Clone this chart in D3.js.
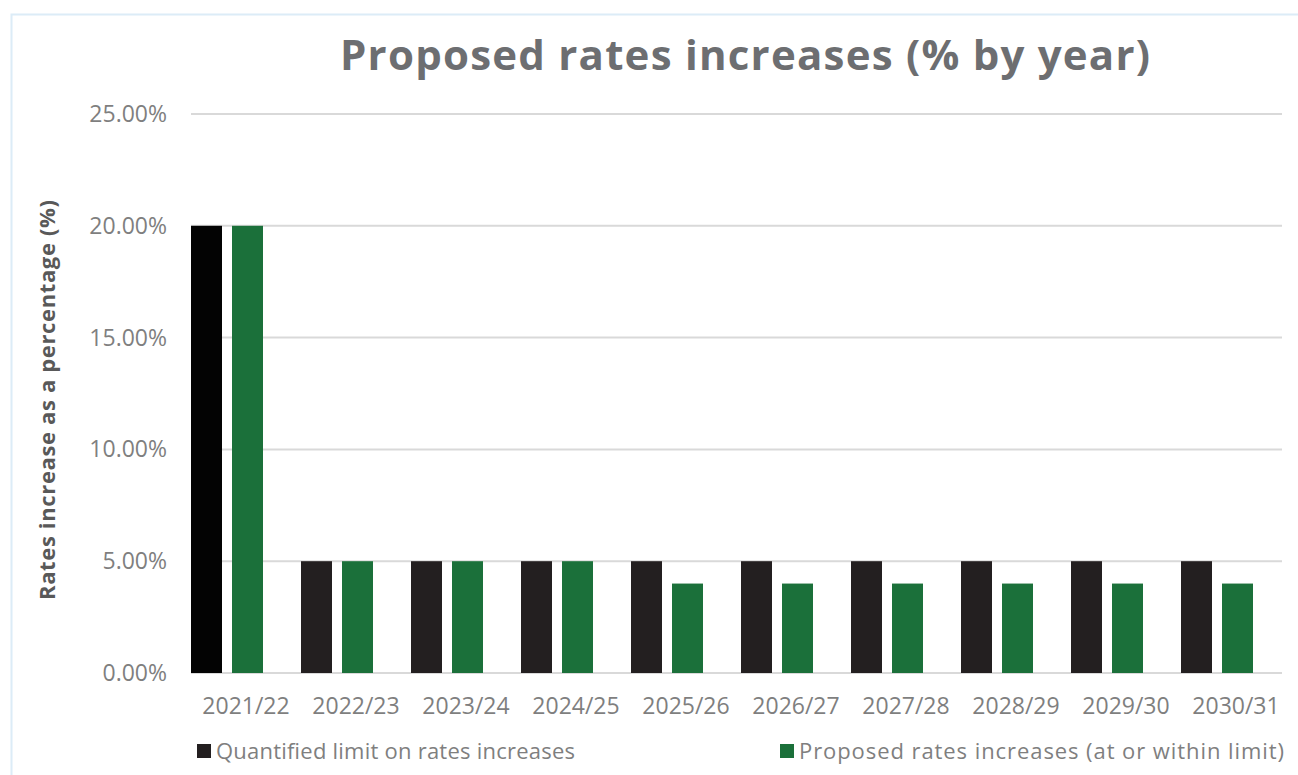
<!DOCTYPE html>
<html lang="en">
<head>
<meta charset="utf-8">
<title>Proposed rates increases</title>
<script src="https://d3js.org/d3.v7.min.js"></script>
<style>
  body { margin: 0; background: #fff; }
  text { font-family: "Open Sans", "Noto Sans", sans-serif; }
</style>
</head>
<body>
<script>
// data
var years = ["2021/22", "2022/23", "2023/24", "2024/25", "2025/26",
             "2026/27", "2027/28", "2028/29", "2029/30", "2030/31"];
var limitValues = [20, 5, 5, 5, 5, 5, 5, 5, 5, 5];
var proposedValues = [20, 5, 5, 5, 4, 4, 4, 4, 4, 4];
var yTicks = [0, 5, 10, 15, 20, 25];
var seriesNames = ["Quantified limit on rates increases",
                   "Proposed rates increases (at or within limit)"];

var w = 1298, h = 775;

var svg = d3.select("body").append("svg")
  .attr("width", w)
  .attr("height", h);

// chart border
svg.append("rect")
  .attr("x", 11.5).attr("y", 14.5)
  .attr("width", w).attr("height", h)
  .attr("fill", "none")
  .attr("stroke", "#dcecf7")
  .attr("stroke-width", 2);

var x = d3.scaleBand().domain(years).range([191, 1291]);
var y = d3.scaleLinear().domain([0, 25]).range([673, 114]);

// gridlines
svg.append("g").selectAll("line")
  .data(yTicks)
  .enter().append("line")
  .attr("x1", 191).attr("x2", 1282)
  .attr("y1", function(d) { return y(d); })
  .attr("y2", function(d) { return y(d); })
  .attr("stroke", "#d9d9d9")
  .attr("stroke-width", 2);

// y tick labels
svg.append("g").selectAll("text")
  .data(yTicks)
  .enter().append("text")
  .attr("x", 167)
  .attr("y", function(d) { return y(d) + 8; })
  .attr("text-anchor", "end")
  .attr("font-size", 23)
  .attr("fill", "#7f7f7f")
  .text(function(d) { return d.toFixed(2) + "%"; });

var barW = 31;

// limit bars
svg.append("g").selectAll("rect")
  .data(limitValues)
  .enter().append("rect")
  .attr("x", function(d, i) { return x(years[i]); })
  .attr("y", function(d) { return y(d); })
  .attr("width", barW)
  .attr("height", function(d) { return y(0) - y(d); })
  .attr("fill", function(d, i) { return i === 0 ? "#030303" : "#231f20"; });

// proposed bars
svg.append("g").selectAll("rect")
  .data(proposedValues)
  .enter().append("rect")
  .attr("x", function(d, i) { return x(years[i]) + 41; })
  .attr("y", function(d) { return y(d); })
  .attr("width", barW)
  .attr("height", function(d) { return y(0) - y(d); })
  .attr("fill", "#1b703a");

// x labels
svg.append("g").selectAll("text")
  .data(years)
  .enter().append("text")
  .attr("x", function(d) { return x(d) + x.bandwidth() / 2; })
  .attr("y", 714)
  .attr("text-anchor", "middle")
  .attr("font-size", 23)
  .attr("fill", "#7f7f7f")
  .text(function(d) { return d; });

// title
svg.append("text")
  .attr("x", 745).attr("y", 70)
  .attr("text-anchor", "middle")
  .attr("font-size", 42)
  .attr("font-weight", "bold")
  .attr("fill", "#6d6e71")
  .attr("textLength", 810)
  .text("Proposed rates increases (% by year)");

// y axis title
svg.append("text")
  .attr("transform", "translate(55,400) rotate(-90)")
  .attr("text-anchor", "middle")
  .attr("font-size", 22)
  .attr("font-weight", "bold")
  .attr("fill", "#595959")
  .attr("textLength", 400)
  .text("Rates increase as a percentage (%)");

// legend
var legendX = [197, 780];
var legendTextW = [359, 485];
var legendColors = ["#231f20", "#1b703a"];
var legend = svg.append("g").selectAll("g")
  .data(seriesNames)
  .enter().append("g")
  .attr("transform", function(d, i) { return "translate(" + legendX[i] + ",744)"; });

legend.append("rect")
  .attr("width", 14).attr("height", 14)
  .attr("fill", function(d, i) { return legendColors[i]; });

legend.append("text")
  .attr("x", 19).attr("y", 15)
  .attr("font-size", 22)
  .attr("fill", "#7f7f7f")
  .attr("textLength", function(d, i) { return legendTextW[i]; })
  .text(function(d) { return d; });
</script>
</body>
</html>
